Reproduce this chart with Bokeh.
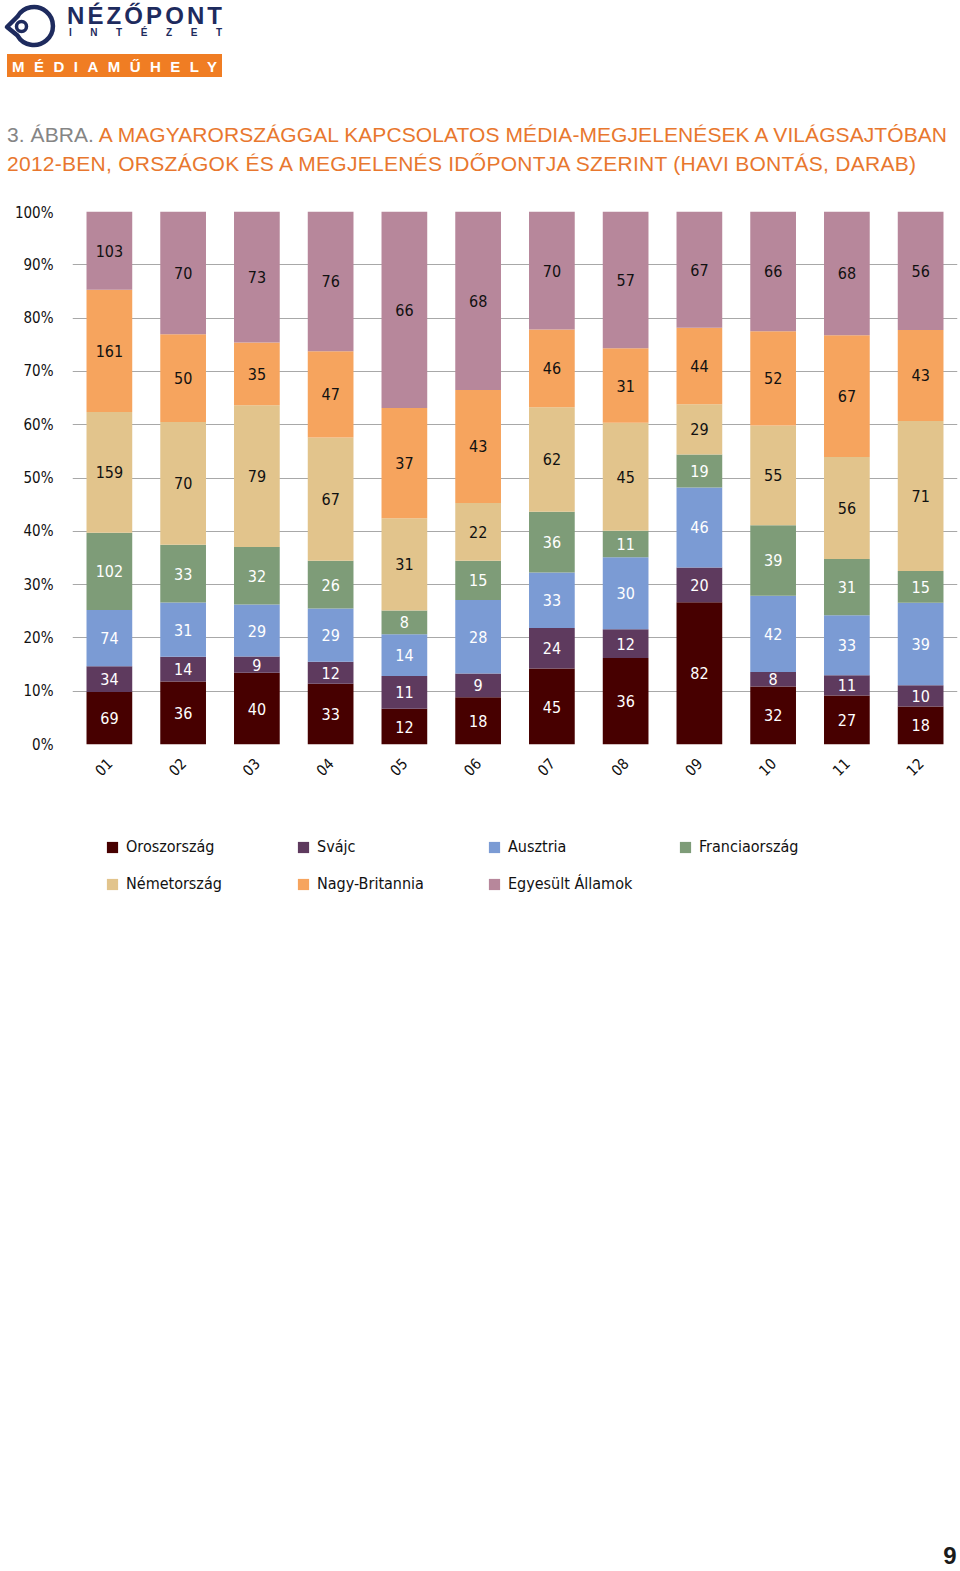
import math
from bokeh.plotting import figure
from bokeh.layouts import column
from bokeh.models import (FactorRange, Range1d, NumeralTickFormatter, Legend, LegendItem,
                          ColumnDataSource, FixedTicker, Div)
from bokeh.core.properties import value
from bokeh.embed import file_html
from bokeh.resources import INLINE

# ---------------- data ----------------
months = ["01", "02", "03", "04", "05", "06", "07", "08", "09", "10", "11", "12"]
series = ["Oroszország", "Svájc", "Ausztria", "Franciaország",
          "Németország", "Nagy-Britannia", "Egyesült Államok"]
oroszorszag = [69, 36, 40, 33, 12, 18, 45, 36, 82, 32, 27, 18]
svajc = [34, 14, 9, 12, 11, 9, 24, 12, 20, 8, 11, 10]
ausztria = [74, 31, 29, 29, 14, 28, 33, 30, 46, 42, 33, 39]
franciaorszag = [102, 33, 32, 26, 8, 15, 36, 11, 19, 39, 31, 15]
nemetorszag = [159, 70, 79, 67, 31, 22, 62, 45, 29, 55, 56, 71]
nagy_britannia = [161, 50, 35, 47, 37, 43, 46, 31, 44, 52, 67, 43]
egyesult_allamok = [103, 70, 73, 76, 66, 68, 70, 57, 67, 66, 68, 56]
y_ticks = [0.0, 0.1, 0.2, 0.3, 0.4, 0.5, 0.6, 0.7, 0.8, 0.9, 1.0]

title_grey = "3. ÁBRA."
title_line1 = "A MAGYARORSZÁGGAL KAPCSOLATOS MÉDIA-MEGJELENÉSEK A VILÁGSAJTÓBAN"
title_line2 = "2012-BEN, ORSZÁGOK ÉS A MEGJELENÉS IDŐPONTJA SZERINT (HAVI BONTÁS, DARAB)"
page_number = "9"

colors = ["#470000", "#5E3A5E", "#7B9BD4", "#7E9C78", "#E2C48C", "#F6A45E", "#B7879B"]
label_colors = ["white", "white", "white", "white", "#111111", "#111111", "#111111"]

COND = "'DejaVu Sans Condensed', Roboto, sans-serif"
NAVY = "#1E2B5E"
ORANGE = "#E8772E"

values = [oroszorszag, svajc, ausztria, franciaorszag, nemetorszag, nagy_britannia, egyesult_allamok]
totals = [sum(v[i] for v in values) for i in range(len(months))]

data = {"month": months}
for name, vals in zip(series, values):
    data[name] = [vals[i] / totals[i] for i in range(len(months))]
src = ColumnDataSource(data)

lx, ly, lt, lc = [], [], [], []
cum = [0.0] * len(months)
for name, vals, tc in zip(series, values, label_colors):
    for i, m in enumerate(months):
        share = vals[i] / totals[i]
        lx.append(m)
        ly.append(cum[i] + share / 2)
        lt.append(str(vals[i]))
        lc.append(tc)
        cum[i] += share
lab_src = ColumnDataSource(dict(x=lx, y=ly, text=lt, color=lc))

# ---------------- header (logo + title) ----------------
inst_letters = "INTÉZET"
mm_letters = "MÉDIAMŰHELY"
header_svg = f"""
<svg xmlns="http://www.w3.org/2000/svg" width="958" height="203" style="display:block">
  <path d="M 7 27 L 17.5 16.5 A 19 19 0 1 1 17.5 35.5 Z" fill="none" stroke="{NAVY}"
        stroke-width="4.5" stroke-linejoin="round"/>
  <circle cx="21.5" cy="26.5" r="5" fill="none" stroke="{NAVY}" stroke-width="3.5"/>
  <text x="67" y="24" font-family="DejaVu Sans" font-weight="bold" font-size="24"
        fill="{NAVY}" textLength="155" lengthAdjust="spacing">NÉZŐPONT</text>
  <text x="69" y="36" font-family="DejaVu Sans" font-weight="bold" font-size="10"
        fill="{NAVY}" textLength="153" lengthAdjust="spacing">{inst_letters}</text>
  <rect x="7" y="54" width="215" height="23" fill="#F07D23"/>
  <text x="12" y="71.5" font-family="DejaVu Sans" font-weight="bold" font-size="15"
        fill="white" textLength="205" lengthAdjust="spacing">{mm_letters}</text>
  <text x="7" y="142" font-family="Open Sans" font-size="21" textLength="940"
        lengthAdjust="spacing"><tspan fill="#858585">{title_grey} </tspan><tspan fill="{ORANGE}">{title_line1}</tspan></text>
  <text x="7" y="171" font-family="Open Sans" font-size="21" fill="{ORANGE}" textLength="909"
        lengthAdjust="spacing">{title_line2}</text>
</svg>
"""
header = Div(text=header_svg, width=958, height=203, margin=0)

# ---------------- chart ----------------
p = figure(width=958, height=597, x_range=FactorRange(*months), y_range=Range1d(0, 1),
           output_backend="svg", toolbar_location=None,
           min_border_left=72, min_border_right=1, min_border_top=8, min_border_bottom=56,
           outline_line_color=None)

renderers = p.vbar_stack(series, x="month", width=0.62, color=colors, source=src,
                         line_color=None)

p.text(x="x", y="y", text="text", text_color="color", source=lab_src,
       text_font=value(COND), text_font_size="16px",
       text_align="center", text_baseline="middle")

p.yaxis.ticker = FixedTicker(ticks=y_ticks)
p.yaxis.formatter = NumeralTickFormatter(format="0%")
for ax in (p.xaxis[0], p.yaxis[0]):
    ax.axis_line_color = None
    ax.major_tick_line_color = None
    ax.minor_tick_line_color = None
    ax.major_tick_out = 0
    ax.major_tick_in = 0
    ax.major_label_text_font = COND
    ax.major_label_text_font_size = "15px"
    ax.major_label_text_color = "#111111"
p.yaxis.major_label_standoff = 19
p.xaxis.major_label_standoff = 16
p.xaxis.major_label_orientation = math.pi / 4
p.xgrid.visible = False
p.ygrid.grid_line_color = "#A8A8A8"
p.ygrid.grid_line_width = 1

# ---------------- legend panel (same frame geometry as the chart) ----------------
lg = figure(width=958, height=100, x_range=Range1d(0, 1), y_range=Range1d(0, 1),
            output_backend="svg", toolbar_location=None,
            x_axis_location=None, y_axis_location=None,
            min_border_left=72, min_border_right=1, min_border_top=0, min_border_bottom=0,
            outline_line_color=None)
lg.grid.visible = False
# key swatches: one square per series, kept outside the visible range of this panel
key_renderers = [lg.quad(left=[2], right=[3], bottom=[2], top=[3], fill_color=c, line_color=None)
                 for c in colors]
items = [LegendItem(label=s, renderers=[r]) for s, r in zip(series, key_renderers)]
legend = Legend(items=items, location=(33, 6), orientation="horizontal", ncols=4,
                padding=0, margin=0, spacing=16, border_line_color=None,
                background_fill_alpha=0, glyph_width=14, glyph_height=14,
                label_standoff=7, label_width=154, label_height=21,
                label_text_font=COND, label_text_font_size="16px",
                label_text_color="#111111")
lg.add_layout(legend)

# ---------------- footer ----------------
footer_svg = f"""
<svg xmlns="http://www.w3.org/2000/svg" width="958" height="669" style="display:block">
  <text x="950" y="664" font-family="Open Sans" font-weight="bold" font-size="24"
        fill="#1A1A1A" text-anchor="middle">{page_number}</text>
</svg>
"""
footer = Div(text=footer_svg, width=958, height=669, margin=0)

layout = column(header, p, lg, footer, spacing=0)
open("out.html", "w").write(file_html(layout, INLINE))
